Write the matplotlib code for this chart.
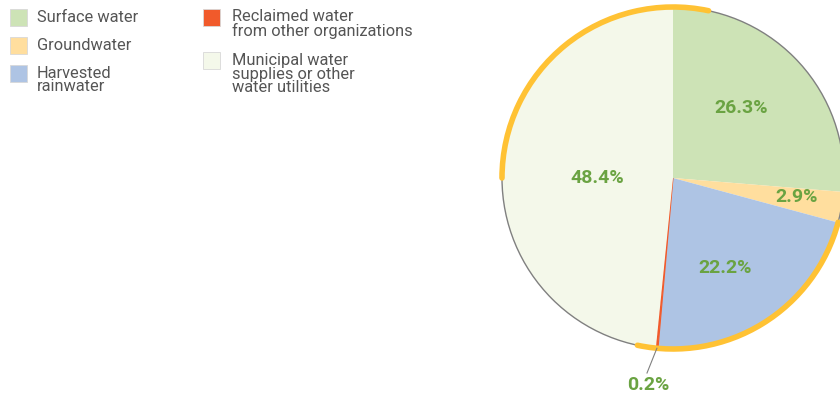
import matplotlib
matplotlib.use("Agg")
import matplotlib.pyplot as plt
import numpy as np
from matplotlib.patches import Arc, Circle, Rectangle

categories = ["Surface water", "Groundwater", "Harvested\nrainwater",
              "Reclaimed water\nfrom other organizations",
              "Municipal water\nsupplies or other\nwater utilities"]
values = [26.3, 2.9, 22.2, 0.2, 48.4]
pct_labels = ["26.3%", "2.9%", "22.2%", "0.2%", "48.4%"]
colors = ["#CDE3B6", "#FFDE9E", "#AEC4E4", "#F15A2B", "#F4F8EA"]

plt.rcParams['font.family'] = ['Roboto', 'DejaVu Sans']

W, H = 840, 395
fig = plt.figure(figsize=(W / 100, H / 100), dpi=100)
ax = fig.add_axes([0, 0, 1, 1])

cx, cy, R = 673, H - 178, 171
wedges, _ = ax.pie(values, colors=colors, startangle=90, counterclock=False,
                   center=(cx, cy), radius=R,
                   wedgeprops=dict(edgecolor="none", linewidth=0))
wedges[3].set_edgecolor(colors[3])
wedges[3].set_linewidth(0.8)
ax.set_xlim(0, W)
ax.set_ylim(0, H)
ax.set_aspect("auto")
ax.axis("off")

# outline
ax.add_patch(Circle((cx, cy), R, fill=False, edgecolor="#808080", linewidth=1.0, zorder=3))
# highlight arcs
for t1, t2 in [(78, 180), (-102, -15)]:
    a = Arc((cx, cy), 2 * R, 2 * R, theta1=t1, theta2=t2, color="#FFC234",
            linewidth=4.0, zorder=4)
    a.set_capstyle("round")
    ax.add_patch(a)

# percentage labels
label_r = [0.57, 0.73, 0.61, None, 0.44]
label_dang = [3, 1, -5, 0, 3]
green = "#6AA342"
start = 90.0
for v, lab, fr, da in zip(values, pct_labels, label_r, label_dang):
    mid = start - v * 3.6 / 2
    start -= v * 3.6
    th = np.deg2rad(mid + da)
    if fr is None:
        ex, ey = cx + R * np.cos(th), cy + R * np.sin(th)
        tx, ty = 647, H - 373
        ax.plot([ex, tx], [ey, ty], color="#808080", lw=0.8, zorder=5)
        ax.text(648, H - 385, lab, color=green, fontsize=14, fontweight="bold",
                ha="center", va="center", zorder=6)
    else:
        ax.text(cx + fr * R * np.cos(th), cy + fr * R * np.sin(th), lab,
                color=green, fontsize=14, fontweight="bold",
                ha="center", va="center", zorder=6)

# legend
leg_pos = [(10, 9, 37, 17), (10, 37, 37, 45), (10, 65, 37, 80),
           (203, 9, 232, 24), (203, 52, 232, 74)]
for (sx, sy, tx, ty), c, name in zip(leg_pos, colors, categories):
    ax.add_patch(Rectangle((sx, H - sy - 17), 17, 17, facecolor=c,
                           edgecolor="#D8D8D8", linewidth=0.6))
    ax.text(tx, H - ty, name, fontsize=11.8, color="#555555", ha="left",
            va="center", linespacing=0.9)

fig.savefig("out.png", dpi=100)
